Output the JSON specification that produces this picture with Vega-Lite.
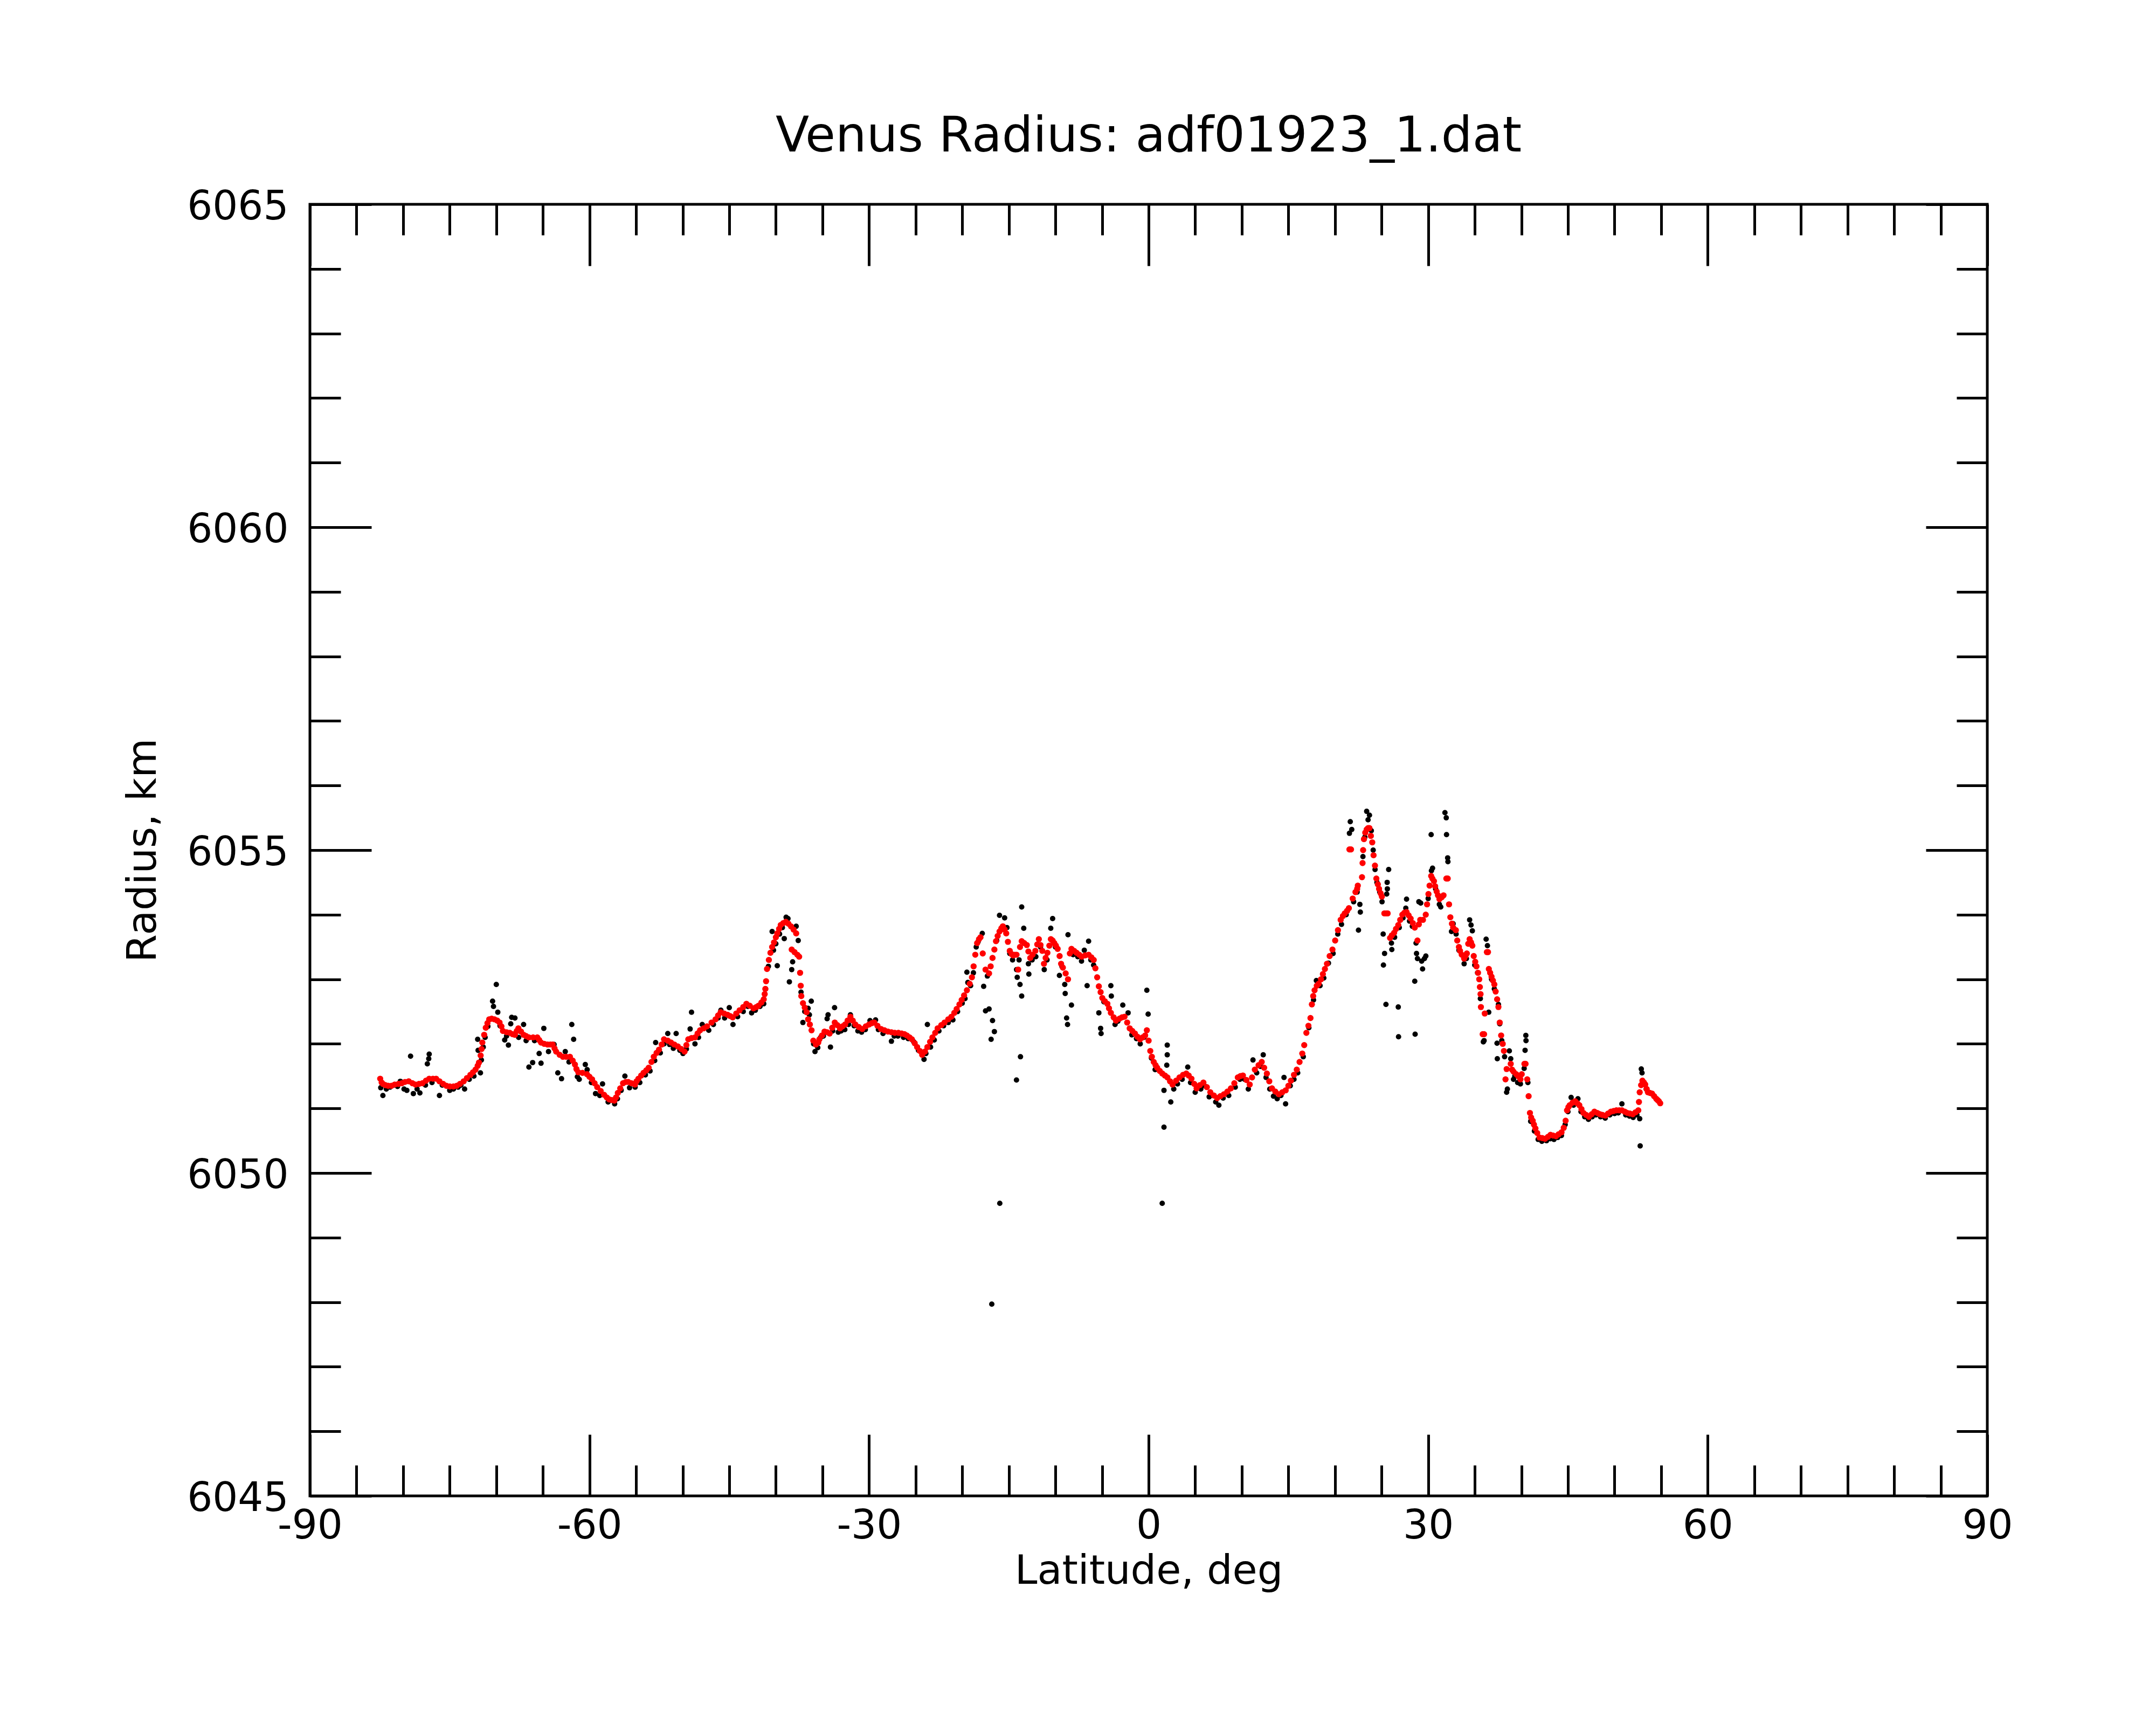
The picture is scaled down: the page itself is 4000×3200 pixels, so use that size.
{
  "$schema": "https://vega.github.io/schema/vega-lite/v6.json",
  "width": 3112,
  "height": 2396,
  "autosize": {"type": "none"},
  "padding": {"left": 575, "top": 379, "right": 313, "bottom": 425},
  "background": "white",
  "title": {
    "text": "Venus Radius: adf01923_1.dat",
    "font": "DejaVu Sans",
    "fontSize": 91,
    "fontWeight": "normal",
    "color": "black",
    "anchor": "middle",
    "offset": 47
  },
  "datasets": {
    "raw": [
      {"lat": -82.4, "r": 6051.32}, {"lat": -82.17, "r": 6051.2}, {"lat": -81.8, "r": 6051.3}, {"lat": -81.4, "r": 6051.33},
      {"lat": -81.0, "r": 6051.36}, {"lat": -80.6, "r": 6051.34}, {"lat": -80.3, "r": 6051.42}, {"lat": -79.9, "r": 6051.3},
      {"lat": -79.6, "r": 6051.28}, {"lat": -79.2, "r": 6051.81}, {"lat": -78.9, "r": 6051.23}, {"lat": -78.5, "r": 6051.3},
      {"lat": -78.2, "r": 6051.24}, {"lat": -77.6, "r": 6051.36}, {"lat": -77.4, "r": 6051.69}, {"lat": -77.25, "r": 6051.77},
      {"lat": -77.2, "r": 6051.84}, {"lat": -76.9, "r": 6051.4}, {"lat": -76.1, "r": 6051.2}, {"lat": -75.8, "r": 6051.36},
      {"lat": -75.0, "r": 6051.28}, {"lat": -74.6, "r": 6051.3}, {"lat": -74.1, "r": 6051.33}, {"lat": -73.8, "r": 6051.36},
      {"lat": -73.4, "r": 6051.3}, {"lat": -72.9, "r": 6051.45}, {"lat": -72.4, "r": 6051.5}, {"lat": -72.0, "r": 6052.07},
      {"lat": -71.95, "r": 6051.9}, {"lat": -71.7, "r": 6051.55}, {"lat": -71.6, "r": 6051.75}, {"lat": -71.4, "r": 6051.95},
      {"lat": -71.2, "r": 6052.1}, {"lat": -70.9, "r": 6052.27}, {"lat": -70.4, "r": 6052.66}, {"lat": -70.3, "r": 6052.58},
      {"lat": -70.0, "r": 6052.92}, {"lat": -69.84, "r": 6052.49}, {"lat": -69.6, "r": 6052.28}, {"lat": -69.1, "r": 6052.06},
      {"lat": -68.9, "r": 6052.12}, {"lat": -68.7, "r": 6051.98}, {"lat": -68.45, "r": 6052.31}, {"lat": -68.35, "r": 6052.41},
      {"lat": -68.0, "r": 6052.4}, {"lat": -67.6, "r": 6052.1}, {"lat": -67.07, "r": 6052.3}, {"lat": -66.8, "r": 6052.05},
      {"lat": -66.5, "r": 6051.64}, {"lat": -66.1, "r": 6051.71}, {"lat": -65.9, "r": 6052.05}, {"lat": -65.4, "r": 6051.85},
      {"lat": -65.2, "r": 6051.7}, {"lat": -64.9, "r": 6052.24}, {"lat": -64.4, "r": 6051.88}, {"lat": -63.8, "r": 6051.99},
      {"lat": -63.4, "r": 6051.55}, {"lat": -63.0, "r": 6051.46}, {"lat": -62.6, "r": 6051.88}, {"lat": -62.2, "r": 6051.72},
      {"lat": -61.9, "r": 6052.3}, {"lat": -61.7, "r": 6052.07}, {"lat": -61.3, "r": 6051.49}, {"lat": -61.1, "r": 6051.45},
      {"lat": -60.45, "r": 6051.68}, {"lat": -60.25, "r": 6051.6}, {"lat": -59.8, "r": 6051.4}, {"lat": -59.35, "r": 6051.23},
      {"lat": -58.9, "r": 6051.2}, {"lat": -58.6, "r": 6051.38}, {"lat": -58.0, "r": 6051.1}, {"lat": -57.3, "r": 6051.07},
      {"lat": -57.0, "r": 6051.15}, {"lat": -56.6, "r": 6051.28}, {"lat": -56.2, "r": 6051.5}, {"lat": -55.7, "r": 6051.32},
      {"lat": -55.1, "r": 6051.33}, {"lat": -54.6, "r": 6051.4}, {"lat": -54.0, "r": 6051.52}, {"lat": -53.5, "r": 6051.58},
      {"lat": -53.0, "r": 6051.74}, {"lat": -52.9, "r": 6052.02}, {"lat": -52.4, "r": 6051.86}, {"lat": -52.0, "r": 6052.0},
      {"lat": -51.6, "r": 6052.16}, {"lat": -51.4, "r": 6051.99}, {"lat": -51.0, "r": 6051.93}, {"lat": -50.7, "r": 6052.16},
      {"lat": -50.3, "r": 6051.9}, {"lat": -49.97, "r": 6051.85}, {"lat": -49.6, "r": 6051.92}, {"lat": -49.2, "r": 6052.23},
      {"lat": -49.05, "r": 6052.49}, {"lat": -48.68, "r": 6052.0}, {"lat": -48.3, "r": 6052.1}, {"lat": -47.9, "r": 6052.3},
      {"lat": -47.2, "r": 6052.21}, {"lat": -46.7, "r": 6052.3}, {"lat": -46.2, "r": 6052.4}, {"lat": -45.9, "r": 6052.52},
      {"lat": -45.5, "r": 6052.4}, {"lat": -45.0, "r": 6052.56}, {"lat": -44.6, "r": 6052.3}, {"lat": -44.1, "r": 6052.42},
      {"lat": -43.5, "r": 6052.5}, {"lat": -43.0, "r": 6052.58}, {"lat": -42.6, "r": 6052.48}, {"lat": -42.2, "r": 6052.52},
      {"lat": -41.7, "r": 6052.58}, {"lat": -41.3, "r": 6052.62}, {"lat": -41.1, "r": 6052.85}, {"lat": -40.8, "r": 6053.2},
      {"lat": -40.4, "r": 6053.74}, {"lat": -40.25, "r": 6053.45}, {"lat": -40.0, "r": 6053.55}, {"lat": -39.85, "r": 6053.21},
      {"lat": -39.6, "r": 6053.7}, {"lat": -39.3, "r": 6053.8}, {"lat": -39.1, "r": 6053.63}, {"lat": -38.9, "r": 6053.96},
      {"lat": -38.7, "r": 6053.94}, {"lat": -38.55, "r": 6052.96}, {"lat": -38.3, "r": 6053.15}, {"lat": -38.2, "r": 6053.27},
      {"lat": -37.82, "r": 6053.82}, {"lat": -37.6, "r": 6053.6}, {"lat": -37.3, "r": 6052.8}, {"lat": -37.1, "r": 6052.33},
      {"lat": -36.9, "r": 6052.5}, {"lat": -36.54, "r": 6052.55}, {"lat": -36.4, "r": 6052.45}, {"lat": -36.2, "r": 6052.66},
      {"lat": -35.95, "r": 6052.0}, {"lat": -35.8, "r": 6051.88}, {"lat": -35.5, "r": 6051.94}, {"lat": -35.2, "r": 6052.1},
      {"lat": -34.9, "r": 6052.12}, {"lat": -34.5, "r": 6052.39}, {"lat": -34.4, "r": 6052.45}, {"lat": -34.14, "r": 6051.95},
      {"lat": -33.9, "r": 6052.2}, {"lat": -33.7, "r": 6052.56}, {"lat": -33.3, "r": 6052.18}, {"lat": -33.0, "r": 6052.2},
      {"lat": -32.6, "r": 6052.22}, {"lat": -32.2, "r": 6052.3}, {"lat": -32.0, "r": 6052.45}, {"lat": -31.6, "r": 6052.28},
      {"lat": -31.2, "r": 6052.2}, {"lat": -30.8, "r": 6052.18}, {"lat": -30.4, "r": 6052.22}, {"lat": -29.9, "r": 6052.36},
      {"lat": -29.3, "r": 6052.37}, {"lat": -29.0, "r": 6052.22}, {"lat": -28.5, "r": 6052.16}, {"lat": -27.6, "r": 6052.04},
      {"lat": -27.3, "r": 6052.12}, {"lat": -26.9, "r": 6052.12}, {"lat": -26.3, "r": 6052.1}, {"lat": -25.8, "r": 6052.08},
      {"lat": -25.2, "r": 6052.03}, {"lat": -24.7, "r": 6051.9}, {"lat": -24.1, "r": 6051.76}, {"lat": -23.9, "r": 6051.85},
      {"lat": -23.74, "r": 6052.3}, {"lat": -23.4, "r": 6051.95}, {"lat": -23.0, "r": 6052.06}, {"lat": -22.5, "r": 6052.2},
      {"lat": -22.0, "r": 6052.28}, {"lat": -21.5, "r": 6052.33}, {"lat": -21.0, "r": 6052.37}, {"lat": -20.5, "r": 6052.5},
      {"lat": -20.0, "r": 6052.63}, {"lat": -19.7, "r": 6052.7}, {"lat": -19.5, "r": 6053.11}, {"lat": -19.4, "r": 6052.95},
      {"lat": -19.1, "r": 6052.9}, {"lat": -18.8, "r": 6053.1}, {"lat": -18.5, "r": 6053.5}, {"lat": -18.3, "r": 6053.58},
      {"lat": -17.85, "r": 6053.71}, {"lat": -17.7, "r": 6052.89}, {"lat": -17.5, "r": 6052.51}, {"lat": -17.3, "r": 6053.05},
      {"lat": -17.12, "r": 6052.54}, {"lat": -16.9, "r": 6052.07}, {"lat": -16.75, "r": 6052.36}, {"lat": -16.55, "r": 6052.19},
      {"lat": -16.83, "r": 6047.97}, {"lat": -16.3, "r": 6053.6}, {"lat": -16.0, "r": 6053.99}, {"lat": -15.97, "r": 6049.53},
      {"lat": -15.7, "r": 6053.78}, {"lat": -15.45, "r": 6053.95}, {"lat": -15.2, "r": 6053.8}, {"lat": -14.9, "r": 6053.4},
      {"lat": -14.6, "r": 6053.3}, {"lat": -14.18, "r": 6051.44}, {"lat": -14.17, "r": 6053.15}, {"lat": -14.1, "r": 6053.03},
      {"lat": -13.9, "r": 6053.3}, {"lat": -13.8, "r": 6052.92}, {"lat": -13.75, "r": 6051.8}, {"lat": -13.62, "r": 6052.74},
      {"lat": -13.62, "r": 6054.12}, {"lat": -13.4, "r": 6053.79}, {"lat": -12.9, "r": 6053.24}, {"lat": -12.85, "r": 6053.08},
      {"lat": -12.5, "r": 6053.3}, {"lat": -12.1, "r": 6053.35}, {"lat": -11.6, "r": 6053.5}, {"lat": -11.2, "r": 6053.15},
      {"lat": -10.9, "r": 6053.3}, {"lat": -10.5, "r": 6053.79}, {"lat": -10.3, "r": 6053.94}, {"lat": -10.0, "r": 6053.5},
      {"lat": -9.57, "r": 6053.06}, {"lat": -9.3, "r": 6053.2}, {"lat": -9.0, "r": 6052.92}, {"lat": -8.95, "r": 6052.78},
      {"lat": -8.8, "r": 6052.4}, {"lat": -8.7, "r": 6052.3}, {"lat": -8.65, "r": 6053.69}, {"lat": -8.28, "r": 6052.6},
      {"lat": -8.1, "r": 6053.38}, {"lat": -7.6, "r": 6053.35}, {"lat": -7.2, "r": 6053.28}, {"lat": -6.9, "r": 6053.45},
      {"lat": -6.6, "r": 6052.9}, {"lat": -6.44, "r": 6053.59}, {"lat": -6.2, "r": 6053.3}, {"lat": -5.9, "r": 6053.22},
      {"lat": -5.34, "r": 6052.48}, {"lat": -5.15, "r": 6052.24}, {"lat": -5.1, "r": 6052.16}, {"lat": -4.8, "r": 6052.65},
      {"lat": -4.05, "r": 6052.9}, {"lat": -4.0, "r": 6052.74}, {"lat": -3.6, "r": 6052.3}, {"lat": -3.3, "r": 6052.35},
      {"lat": -2.77, "r": 6052.6}, {"lat": -2.2, "r": 6052.48}, {"lat": -1.8, "r": 6052.14}, {"lat": -1.3, "r": 6052.08},
      {"lat": -0.9, "r": 6052.0}, {"lat": -0.5, "r": 6052.1}, {"lat": -0.19, "r": 6052.83}, {"lat": -0.05, "r": 6052.46},
      {"lat": 0.3, "r": 6051.78}, {"lat": 0.7, "r": 6051.6}, {"lat": 1.46, "r": 6049.53}, {"lat": 1.65, "r": 6050.71},
      {"lat": 1.65, "r": 6051.28}, {"lat": 2.0, "r": 6051.98}, {"lat": 2.0, "r": 6051.83}, {"lat": 1.95, "r": 6051.67},
      {"lat": 2.38, "r": 6051.1}, {"lat": 2.7, "r": 6051.3}, {"lat": 3.1, "r": 6051.38}, {"lat": 3.6, "r": 6051.45},
      {"lat": 4.2, "r": 6051.64}, {"lat": 4.5, "r": 6051.4}, {"lat": 5.0, "r": 6051.25}, {"lat": 5.6, "r": 6051.3},
      {"lat": 6.0, "r": 6051.35}, {"lat": 6.5, "r": 6051.18}, {"lat": 7.2, "r": 6051.1}, {"lat": 7.54, "r": 6051.05},
      {"lat": 8.0, "r": 6051.16}, {"lat": 8.6, "r": 6051.2}, {"lat": 9.3, "r": 6051.33}, {"lat": 9.8, "r": 6051.45},
      {"lat": 10.3, "r": 6051.45}, {"lat": 10.7, "r": 6051.3}, {"lat": 11.2, "r": 6051.75}, {"lat": 11.6, "r": 6051.55},
      {"lat": 12.0, "r": 6051.65}, {"lat": 12.3, "r": 6051.83}, {"lat": 12.6, "r": 6051.48}, {"lat": 13.0, "r": 6051.3},
      {"lat": 13.4, "r": 6051.19}, {"lat": 13.8, "r": 6051.15}, {"lat": 14.2, "r": 6051.2}, {"lat": 14.53, "r": 6051.48},
      {"lat": 14.7, "r": 6051.07}, {"lat": 15.2, "r": 6051.35}, {"lat": 15.6, "r": 6051.45}, {"lat": 16.0, "r": 6051.55},
      {"lat": 16.6, "r": 6051.8}, {"lat": 17.2, "r": 6052.25}, {"lat": 17.7, "r": 6052.68}, {"lat": 18.0, "r": 6052.98},
      {"lat": 18.4, "r": 6052.9}, {"lat": 18.8, "r": 6053.02}, {"lat": 19.3, "r": 6053.25}, {"lat": 19.8, "r": 6053.4},
      {"lat": 20.3, "r": 6053.7}, {"lat": 20.7, "r": 6053.85}, {"lat": 21.2, "r": 6054.0}, {"lat": 21.55, "r": 6055.26},
      {"lat": 21.64, "r": 6055.44}, {"lat": 21.8, "r": 6055.32}, {"lat": 22.0, "r": 6054.2}, {"lat": 22.38, "r": 6054.35},
      {"lat": 22.52, "r": 6053.76}, {"lat": 22.67, "r": 6054.16}, {"lat": 22.72, "r": 6054.04}, {"lat": 23.0, "r": 6054.9},
      {"lat": 23.2, "r": 6055.2}, {"lat": 23.4, "r": 6055.6}, {"lat": 23.55, "r": 6055.47}, {"lat": 23.7, "r": 6055.54},
      {"lat": 23.9, "r": 6055.3}, {"lat": 24.1, "r": 6055.0}, {"lat": 24.3, "r": 6054.7}, {"lat": 24.5, "r": 6054.5},
      {"lat": 24.8, "r": 6054.35}, {"lat": 25.05, "r": 6054.2}, {"lat": 25.17, "r": 6053.7}, {"lat": 25.2, "r": 6053.22},
      {"lat": 25.32, "r": 6053.4}, {"lat": 25.47, "r": 6052.61}, {"lat": 25.6, "r": 6054.5}, {"lat": 25.62, "r": 6054.4},
      {"lat": 25.55, "r": 6054.32}, {"lat": 25.76, "r": 6054.7}, {"lat": 26.06, "r": 6053.56}, {"lat": 26.1, "r": 6053.46},
      {"lat": 26.4, "r": 6053.65}, {"lat": 26.79, "r": 6052.57}, {"lat": 26.82, "r": 6052.11}, {"lat": 26.9, "r": 6053.8},
      {"lat": 27.3, "r": 6053.95}, {"lat": 27.6, "r": 6054.1}, {"lat": 27.68, "r": 6054.24}, {"lat": 28.0, "r": 6053.9},
      {"lat": 28.3, "r": 6053.82}, {"lat": 28.56, "r": 6052.97}, {"lat": 28.6, "r": 6052.15}, {"lat": 28.7, "r": 6053.56},
      {"lat": 28.75, "r": 6053.4}, {"lat": 28.85, "r": 6053.32}, {"lat": 29.0, "r": 6054.2}, {"lat": 29.2, "r": 6054.18},
      {"lat": 29.3, "r": 6053.28}, {"lat": 29.4, "r": 6053.16}, {"lat": 29.6, "r": 6053.32}, {"lat": 29.75, "r": 6053.36},
      {"lat": 30.0, "r": 6054.25}, {"lat": 30.32, "r": 6055.24}, {"lat": 30.35, "r": 6054.68}, {"lat": 30.47, "r": 6054.72},
      {"lat": 30.8, "r": 6054.4}, {"lat": 31.2, "r": 6054.16}, {"lat": 31.35, "r": 6054.12}, {"lat": 31.8, "r": 6055.58},
      {"lat": 31.94, "r": 6055.5}, {"lat": 31.97, "r": 6055.24}, {"lat": 32.09, "r": 6054.88}, {"lat": 32.12, "r": 6054.82},
      {"lat": 32.5, "r": 6053.74}, {"lat": 32.68, "r": 6053.86}, {"lat": 33.0, "r": 6053.7}, {"lat": 33.3, "r": 6053.45},
      {"lat": 33.86, "r": 6053.24}, {"lat": 34.1, "r": 6053.32}, {"lat": 34.45, "r": 6053.92}, {"lat": 34.6, "r": 6053.84},
      {"lat": 34.74, "r": 6053.75}, {"lat": 35.0, "r": 6053.22}, {"lat": 35.3, "r": 6053.1}, {"lat": 35.6, "r": 6052.7},
      {"lat": 35.92, "r": 6052.03}, {"lat": 36.0, "r": 6052.05}, {"lat": 36.22, "r": 6053.62}, {"lat": 36.36, "r": 6053.52},
      {"lat": 36.5, "r": 6052.49}, {"lat": 36.8, "r": 6053.0}, {"lat": 37.1, "r": 6052.85}, {"lat": 37.39, "r": 6052.01},
      {"lat": 37.42, "r": 6051.77}, {"lat": 37.54, "r": 6052.61}, {"lat": 37.68, "r": 6052.31}, {"lat": 37.9, "r": 6052.05},
      {"lat": 38.2, "r": 6051.8}, {"lat": 38.42, "r": 6051.25}, {"lat": 38.5, "r": 6051.3}, {"lat": 38.71, "r": 6051.89},
      {"lat": 38.86, "r": 6051.77}, {"lat": 39.16, "r": 6051.45}, {"lat": 39.3, "r": 6051.5}, {"lat": 39.6, "r": 6051.4},
      {"lat": 39.9, "r": 6051.38}, {"lat": 40.3, "r": 6051.62}, {"lat": 40.48, "r": 6052.13}, {"lat": 40.5, "r": 6052.05},
      {"lat": 40.4, "r": 6051.9}, {"lat": 40.7, "r": 6051.4}, {"lat": 41.0, "r": 6050.8}, {"lat": 41.4, "r": 6050.65},
      {"lat": 41.8, "r": 6050.52}, {"lat": 42.2, "r": 6050.49}, {"lat": 42.7, "r": 6050.5}, {"lat": 43.1, "r": 6050.53},
      {"lat": 43.5, "r": 6050.52}, {"lat": 43.9, "r": 6050.55}, {"lat": 44.3, "r": 6050.58}, {"lat": 44.7, "r": 6050.75},
      {"lat": 45.0, "r": 6050.95}, {"lat": 45.34, "r": 6051.17}, {"lat": 45.6, "r": 6051.05}, {"lat": 46.07, "r": 6051.15},
      {"lat": 46.4, "r": 6050.95}, {"lat": 46.8, "r": 6050.87}, {"lat": 47.2, "r": 6050.83}, {"lat": 47.6, "r": 6050.87},
      {"lat": 48.0, "r": 6050.9}, {"lat": 48.5, "r": 6050.87}, {"lat": 49.0, "r": 6050.85}, {"lat": 49.5, "r": 6050.9},
      {"lat": 50.0, "r": 6050.92}, {"lat": 50.4, "r": 6050.93}, {"lat": 50.79, "r": 6051.07}, {"lat": 51.2, "r": 6050.9},
      {"lat": 51.6, "r": 6050.88}, {"lat": 52.0, "r": 6050.86}, {"lat": 52.4, "r": 6050.9}, {"lat": 52.7, "r": 6050.84},
      {"lat": 52.75, "r": 6050.42}, {"lat": 52.87, "r": 6051.61}, {"lat": 52.95, "r": 6051.55}, {"lat": 53.1, "r": 6051.4},
      {"lat": 53.4, "r": 6051.3}
    ],
    "fit": [
      {"lat": -82.46, "r": 6051.46}, {"lat": -82.3, "r": 6051.4}, {"lat": -82.17, "r": 6051.38}, {"lat": -81.9, "r": 6051.36},
      {"lat": -81.6, "r": 6051.35}, {"lat": -81.25, "r": 6051.35}, {"lat": -80.9, "r": 6051.37}, {"lat": -80.5, "r": 6051.38},
      {"lat": -80.14, "r": 6051.39}, {"lat": -79.8, "r": 6051.41}, {"lat": -79.4, "r": 6051.42}, {"lat": -79.0, "r": 6051.39},
      {"lat": -78.67, "r": 6051.37}, {"lat": -78.3, "r": 6051.38}, {"lat": -77.93, "r": 6051.39}, {"lat": -77.55, "r": 6051.43},
      {"lat": -77.2, "r": 6051.46}, {"lat": -76.8, "r": 6051.46}, {"lat": -76.46, "r": 6051.46}, {"lat": -76.1, "r": 6051.42},
      {"lat": -75.7, "r": 6051.38}, {"lat": -75.35, "r": 6051.35}, {"lat": -74.99, "r": 6051.34}, {"lat": -74.6, "r": 6051.34},
      {"lat": -74.25, "r": 6051.35}, {"lat": -73.9, "r": 6051.38}, {"lat": -73.5, "r": 6051.42}, {"lat": -73.15, "r": 6051.47},
      {"lat": -72.78, "r": 6051.52}, {"lat": -72.5, "r": 6051.56}, {"lat": -72.23, "r": 6051.6}, {"lat": -72.0, "r": 6051.66},
      {"lat": -71.86, "r": 6051.71}, {"lat": -71.68, "r": 6051.82}, {"lat": -71.58, "r": 6051.92}, {"lat": -71.5, "r": 6052.02},
      {"lat": -71.3, "r": 6052.14}, {"lat": -71.13, "r": 6052.25}, {"lat": -70.95, "r": 6052.32}, {"lat": -70.76, "r": 6052.38},
      {"lat": -70.5, "r": 6052.39}, {"lat": -70.2, "r": 6052.38}, {"lat": -69.9, "r": 6052.36}, {"lat": -69.65, "r": 6052.33},
      {"lat": -69.45, "r": 6052.27}, {"lat": -69.29, "r": 6052.2}, {"lat": -68.9, "r": 6052.18}, {"lat": -68.55, "r": 6052.17},
      {"lat": -68.25, "r": 6052.15}, {"lat": -68.0, "r": 6052.14}, {"lat": -67.8, "r": 6052.2}, {"lat": -67.63, "r": 6052.24},
      {"lat": -67.35, "r": 6052.19}, {"lat": -67.07, "r": 6052.14}, {"lat": -66.8, "r": 6052.12}, {"lat": -66.5, "r": 6052.1},
      {"lat": -66.05, "r": 6052.1}, {"lat": -65.6, "r": 6052.1}, {"lat": -65.4, "r": 6052.06}, {"lat": -65.2, "r": 6052.02},
      {"lat": -64.85, "r": 6052.0}, {"lat": -64.5, "r": 6051.99}, {"lat": -64.2, "r": 6051.99}, {"lat": -63.95, "r": 6051.99},
      {"lat": -63.75, "r": 6051.93}, {"lat": -63.58, "r": 6051.88}, {"lat": -63.2, "r": 6051.83}, {"lat": -62.85, "r": 6051.8},
      {"lat": -62.5, "r": 6051.8}, {"lat": -62.1, "r": 6051.8}, {"lat": -61.8, "r": 6051.74}, {"lat": -61.56, "r": 6051.68},
      {"lat": -61.4, "r": 6051.61}, {"lat": -61.2, "r": 6051.56}, {"lat": -60.75, "r": 6051.55}, {"lat": -60.27, "r": 6051.53},
      {"lat": -60.0, "r": 6051.49}, {"lat": -59.72, "r": 6051.45}, {"lat": -59.45, "r": 6051.39}, {"lat": -59.17, "r": 6051.33},
      {"lat": -58.8, "r": 6051.27}, {"lat": -58.43, "r": 6051.21}, {"lat": -58.15, "r": 6051.17}, {"lat": -57.88, "r": 6051.14},
      {"lat": -57.6, "r": 6051.13}, {"lat": -57.33, "r": 6051.12}, {"lat": -57.15, "r": 6051.17}, {"lat": -56.96, "r": 6051.24},
      {"lat": -56.7, "r": 6051.31}, {"lat": -56.4, "r": 6051.39}, {"lat": -56.1, "r": 6051.41}, {"lat": -55.85, "r": 6051.41},
      {"lat": -55.5, "r": 6051.39}, {"lat": -55.12, "r": 6051.37}, {"lat": -54.95, "r": 6051.42}, {"lat": -54.75, "r": 6051.46},
      {"lat": -54.45, "r": 6051.51}, {"lat": -54.2, "r": 6051.55}, {"lat": -53.9, "r": 6051.59}, {"lat": -53.65, "r": 6051.63},
      {"lat": -53.35, "r": 6051.72}, {"lat": -53.1, "r": 6051.8}, {"lat": -52.8, "r": 6051.86}, {"lat": -52.54, "r": 6051.91},
      {"lat": -52.25, "r": 6051.99}, {"lat": -52.0, "r": 6052.07}, {"lat": -51.6, "r": 6052.05}, {"lat": -51.25, "r": 6052.02},
      {"lat": -50.9, "r": 6051.99}, {"lat": -50.52, "r": 6051.96}, {"lat": -50.15, "r": 6051.92}, {"lat": -49.8, "r": 6051.88},
      {"lat": -49.6, "r": 6051.98}, {"lat": -49.4, "r": 6052.07}, {"lat": -49.05, "r": 6052.09}, {"lat": -48.68, "r": 6052.1},
      {"lat": -48.4, "r": 6052.16}, {"lat": -48.13, "r": 6052.21}, {"lat": -47.75, "r": 6052.24}, {"lat": -47.39, "r": 6052.27},
      {"lat": -46.9, "r": 6052.33}, {"lat": -46.47, "r": 6052.38}, {"lat": -46.2, "r": 6052.44}, {"lat": -45.92, "r": 6052.49},
      {"lat": -45.55, "r": 6052.47}, {"lat": -45.18, "r": 6052.45}, {"lat": -44.9, "r": 6052.43}, {"lat": -44.63, "r": 6052.41},
      {"lat": -44.25, "r": 6052.47}, {"lat": -43.89, "r": 6052.52}, {"lat": -43.5, "r": 6052.57}, {"lat": -43.16, "r": 6052.62},
      {"lat": -42.8, "r": 6052.59}, {"lat": -42.4, "r": 6052.55}, {"lat": -42.1, "r": 6052.57}, {"lat": -41.87, "r": 6052.59},
      {"lat": -41.55, "r": 6052.64}, {"lat": -41.3, "r": 6052.69}, {"lat": -41.2, "r": 6052.77}, {"lat": -41.13, "r": 6052.85},
      {"lat": -41.05, "r": 6052.97}, {"lat": -40.95, "r": 6053.16}, {"lat": -40.75, "r": 6053.3}, {"lat": -40.58, "r": 6053.41},
      {"lat": -40.4, "r": 6053.5}, {"lat": -40.2, "r": 6053.57}, {"lat": -40.0, "r": 6053.65}, {"lat": -39.85, "r": 6053.71},
      {"lat": -39.65, "r": 6053.78}, {"lat": -39.48, "r": 6053.84}, {"lat": -39.2, "r": 6053.87}, {"lat": -38.93, "r": 6053.89},
      {"lat": -38.65, "r": 6053.86}, {"lat": -38.38, "r": 6053.82}, {"lat": -38.1, "r": 6053.77}, {"lat": -37.82, "r": 6053.71},
      {"lat": -38.3, "r": 6053.46}, {"lat": -38.0, "r": 6053.42}, {"lat": -37.7, "r": 6053.38}, {"lat": -37.5, "r": 6053.35},
      {"lat": -37.4, "r": 6053.1}, {"lat": -37.33, "r": 6052.9}, {"lat": -37.27, "r": 6052.74}, {"lat": -37.09, "r": 6052.63},
      {"lat": -36.9, "r": 6052.56}, {"lat": -36.7, "r": 6052.49}, {"lat": -36.54, "r": 6052.38}, {"lat": -36.35, "r": 6052.3},
      {"lat": -36.17, "r": 6052.21}, {"lat": -35.98, "r": 6052.05}, {"lat": -35.7, "r": 6051.99}, {"lat": -35.45, "r": 6052.02},
      {"lat": -35.33, "r": 6052.07}, {"lat": -35.05, "r": 6052.13}, {"lat": -34.78, "r": 6052.19}, {"lat": -34.5, "r": 6052.18},
      {"lat": -34.23, "r": 6052.16}, {"lat": -33.95, "r": 6052.25}, {"lat": -33.68, "r": 6052.33}, {"lat": -33.4, "r": 6052.29},
      {"lat": -33.12, "r": 6052.24}, {"lat": -32.85, "r": 6052.27}, {"lat": -32.57, "r": 6052.3}, {"lat": -32.3, "r": 6052.36},
      {"lat": -32.0, "r": 6052.42}, {"lat": -31.75, "r": 6052.36}, {"lat": -31.47, "r": 6052.3}, {"lat": -31.1, "r": 6052.26},
      {"lat": -30.73, "r": 6052.23}, {"lat": -30.35, "r": 6052.27}, {"lat": -30.0, "r": 6052.3}, {"lat": -29.7, "r": 6052.32},
      {"lat": -29.44, "r": 6052.33}, {"lat": -29.1, "r": 6052.28}, {"lat": -28.71, "r": 6052.23}, {"lat": -28.35, "r": 6052.21},
      {"lat": -27.97, "r": 6052.19}, {"lat": -27.6, "r": 6052.18}, {"lat": -27.24, "r": 6052.17}, {"lat": -26.85, "r": 6052.17},
      {"lat": -26.5, "r": 6052.16}, {"lat": -26.2, "r": 6052.15}, {"lat": -25.95, "r": 6052.13}, {"lat": -25.65, "r": 6052.1},
      {"lat": -25.4, "r": 6052.07}, {"lat": -25.1, "r": 6052.01}, {"lat": -24.84, "r": 6051.95}, {"lat": -24.55, "r": 6051.89},
      {"lat": -24.3, "r": 6051.83}, {"lat": -24.0, "r": 6051.88}, {"lat": -23.74, "r": 6051.95}, {"lat": -23.45, "r": 6052.03},
      {"lat": -23.2, "r": 6052.1}, {"lat": -22.9, "r": 6052.17}, {"lat": -22.64, "r": 6052.24}, {"lat": -22.25, "r": 6052.29},
      {"lat": -21.9, "r": 6052.33}, {"lat": -21.5, "r": 6052.38}, {"lat": -21.16, "r": 6052.42}, {"lat": -20.85, "r": 6052.48},
      {"lat": -20.6, "r": 6052.54}, {"lat": -20.3, "r": 6052.61}, {"lat": -20.06, "r": 6052.68}, {"lat": -19.8, "r": 6052.75},
      {"lat": -19.5, "r": 6052.83}, {"lat": -19.2, "r": 6052.93}, {"lat": -18.96, "r": 6053.03}, {"lat": -18.78, "r": 6053.2},
      {"lat": -18.6, "r": 6053.38}, {"lat": -18.4, "r": 6053.56}, {"lat": -18.2, "r": 6053.62}, {"lat": -18.04, "r": 6053.65},
      {"lat": -17.8, "r": 6053.4}, {"lat": -17.5, "r": 6053.15}, {"lat": -17.12, "r": 6053.09}, {"lat": -16.95, "r": 6053.2},
      {"lat": -16.75, "r": 6053.33}, {"lat": -16.55, "r": 6053.46}, {"lat": -16.38, "r": 6053.59}, {"lat": -16.2, "r": 6053.67},
      {"lat": -16.0, "r": 6053.74}, {"lat": -15.8, "r": 6053.79}, {"lat": -15.64, "r": 6053.82}, {"lat": -15.45, "r": 6053.77},
      {"lat": -15.28, "r": 6053.71}, {"lat": -15.1, "r": 6053.58}, {"lat": -14.9, "r": 6053.44}, {"lat": -14.7, "r": 6053.39},
      {"lat": -14.54, "r": 6053.37}, {"lat": -14.35, "r": 6053.38}, {"lat": -14.17, "r": 6053.38}, {"lat": -14.0, "r": 6053.15},
      {"lat": -13.8, "r": 6053.5}, {"lat": -13.62, "r": 6053.59}, {"lat": -13.35, "r": 6053.56}, {"lat": -13.07, "r": 6053.53},
      {"lat": -12.9, "r": 6053.43}, {"lat": -12.7, "r": 6053.33}, {"lat": -12.45, "r": 6053.38}, {"lat": -12.15, "r": 6053.44},
      {"lat": -11.95, "r": 6053.54}, {"lat": -11.78, "r": 6053.62}, {"lat": -11.6, "r": 6053.53}, {"lat": -11.41, "r": 6053.44},
      {"lat": -11.23, "r": 6053.24}, {"lat": -11.05, "r": 6053.33}, {"lat": -10.86, "r": 6053.41}, {"lat": -10.65, "r": 6053.52},
      {"lat": -10.49, "r": 6053.62}, {"lat": -10.3, "r": 6053.6}, {"lat": -10.12, "r": 6053.56}, {"lat": -9.95, "r": 6053.52},
      {"lat": -9.76, "r": 6053.47}, {"lat": -9.55, "r": 6053.36}, {"lat": -9.39, "r": 6053.24}, {"lat": -9.2, "r": 6053.18},
      {"lat": -8.9, "r": 6053.09}, {"lat": -8.65, "r": 6053.0}, {"lat": -8.45, "r": 6053.4}, {"lat": -8.28, "r": 6053.47},
      {"lat": -8.0, "r": 6053.44}, {"lat": -7.73, "r": 6053.41}, {"lat": -7.45, "r": 6053.38}, {"lat": -7.18, "r": 6053.35},
      {"lat": -6.8, "r": 6053.37}, {"lat": -6.44, "r": 6053.38}, {"lat": -6.15, "r": 6053.34}, {"lat": -5.89, "r": 6053.3},
      {"lat": -5.71, "r": 6053.17}, {"lat": -5.52, "r": 6053.03}, {"lat": -5.34, "r": 6052.89}, {"lat": -5.15, "r": 6052.8},
      {"lat": -4.97, "r": 6052.71}, {"lat": -4.7, "r": 6052.66}, {"lat": -4.42, "r": 6052.62}, {"lat": -4.25, "r": 6052.55},
      {"lat": -4.05, "r": 6052.48}, {"lat": -3.75, "r": 6052.41}, {"lat": -3.5, "r": 6052.36}, {"lat": -3.13, "r": 6052.39},
      {"lat": -2.85, "r": 6052.41}, {"lat": -2.58, "r": 6052.42}, {"lat": -2.3, "r": 6052.33}, {"lat": -2.03, "r": 6052.24},
      {"lat": -1.75, "r": 6052.2}, {"lat": -1.47, "r": 6052.16}, {"lat": -1.2, "r": 6052.11}, {"lat": -0.92, "r": 6052.07},
      {"lat": -0.65, "r": 6052.1}, {"lat": -0.37, "r": 6052.13}, {"lat": -0.19, "r": 6052.21}, {"lat": 0.0, "r": 6052.05},
      {"lat": 0.18, "r": 6051.89}, {"lat": 0.35, "r": 6051.8}, {"lat": 0.55, "r": 6051.72}, {"lat": 0.75, "r": 6051.67},
      {"lat": 0.92, "r": 6051.63}, {"lat": 1.2, "r": 6051.58}, {"lat": 1.47, "r": 6051.54}, {"lat": 1.75, "r": 6051.51},
      {"lat": 2.02, "r": 6051.48}, {"lat": 2.3, "r": 6051.42}, {"lat": 2.57, "r": 6051.37}, {"lat": 2.95, "r": 6051.43},
      {"lat": 3.31, "r": 6051.48}, {"lat": 3.7, "r": 6051.52}, {"lat": 4.04, "r": 6051.54}, {"lat": 4.3, "r": 6051.51},
      {"lat": 4.6, "r": 6051.46}, {"lat": 4.9, "r": 6051.38}, {"lat": 5.15, "r": 6051.31}, {"lat": 5.5, "r": 6051.36},
      {"lat": 5.88, "r": 6051.4}, {"lat": 6.25, "r": 6051.33}, {"lat": 6.62, "r": 6051.25}, {"lat": 7.0, "r": 6051.2},
      {"lat": 7.36, "r": 6051.16}, {"lat": 7.7, "r": 6051.19}, {"lat": 8.09, "r": 6051.22}, {"lat": 8.45, "r": 6051.26},
      {"lat": 8.83, "r": 6051.31}, {"lat": 9.2, "r": 6051.39}, {"lat": 9.57, "r": 6051.48}, {"lat": 9.85, "r": 6051.5},
      {"lat": 10.12, "r": 6051.51}, {"lat": 10.5, "r": 6051.44}, {"lat": 10.85, "r": 6051.37}, {"lat": 11.1, "r": 6051.48},
      {"lat": 11.4, "r": 6051.6}, {"lat": 11.8, "r": 6051.67}, {"lat": 12.14, "r": 6051.72}, {"lat": 12.4, "r": 6051.63},
      {"lat": 12.69, "r": 6051.54}, {"lat": 12.95, "r": 6051.42}, {"lat": 13.24, "r": 6051.31}, {"lat": 13.6, "r": 6051.26},
      {"lat": 13.98, "r": 6051.22}, {"lat": 14.35, "r": 6051.25}, {"lat": 14.71, "r": 6051.28}, {"lat": 15.0, "r": 6051.35},
      {"lat": 15.27, "r": 6051.43}, {"lat": 15.6, "r": 6051.52}, {"lat": 15.9, "r": 6051.6}, {"lat": 16.2, "r": 6051.72},
      {"lat": 16.49, "r": 6051.85}, {"lat": 16.7, "r": 6051.98}, {"lat": 16.93, "r": 6052.17}, {"lat": 17.15, "r": 6052.28},
      {"lat": 17.37, "r": 6052.4}, {"lat": 17.52, "r": 6052.61}, {"lat": 17.66, "r": 6052.74}, {"lat": 17.81, "r": 6052.83},
      {"lat": 18.05, "r": 6052.9}, {"lat": 18.25, "r": 6052.93}, {"lat": 18.5, "r": 6053.0}, {"lat": 18.7, "r": 6053.08},
      {"lat": 18.92, "r": 6053.16}, {"lat": 19.14, "r": 6053.24}, {"lat": 19.43, "r": 6053.36}, {"lat": 19.73, "r": 6053.46},
      {"lat": 20.02, "r": 6053.6}, {"lat": 20.32, "r": 6053.76}, {"lat": 20.61, "r": 6053.92}, {"lat": 20.85, "r": 6053.98},
      {"lat": 21.05, "r": 6054.02}, {"lat": 21.3, "r": 6054.06}, {"lat": 21.49, "r": 6054.1}, {"lat": 21.55, "r": 6055.01},
      {"lat": 21.72, "r": 6055.01}, {"lat": 21.9, "r": 6054.25}, {"lat": 22.2, "r": 6054.35}, {"lat": 22.38, "r": 6054.4},
      {"lat": 22.45, "r": 6054.45}, {"lat": 22.9, "r": 6054.58}, {"lat": 22.96, "r": 6054.8}, {"lat": 23.02, "r": 6055.0},
      {"lat": 23.11, "r": 6055.17}, {"lat": 23.25, "r": 6055.27}, {"lat": 23.4, "r": 6055.32}, {"lat": 23.55, "r": 6055.34},
      {"lat": 23.7, "r": 6055.34}, {"lat": 23.85, "r": 6055.22}, {"lat": 24.0, "r": 6055.12}, {"lat": 24.14, "r": 6054.92},
      {"lat": 24.29, "r": 6054.76}, {"lat": 24.44, "r": 6054.56}, {"lat": 24.6, "r": 6054.47}, {"lat": 24.73, "r": 6054.4},
      {"lat": 24.9, "r": 6054.33}, {"lat": 25.03, "r": 6054.28}, {"lat": 25.3, "r": 6054.02}, {"lat": 25.5, "r": 6054.02},
      {"lat": 25.65, "r": 6054.02}, {"lat": 25.91, "r": 6053.64}, {"lat": 26.1, "r": 6053.68}, {"lat": 26.35, "r": 6053.72},
      {"lat": 26.55, "r": 6053.78}, {"lat": 26.79, "r": 6053.84}, {"lat": 27.0, "r": 6053.92}, {"lat": 27.23, "r": 6054.0},
      {"lat": 27.45, "r": 6054.03}, {"lat": 27.68, "r": 6054.04}, {"lat": 27.9, "r": 6053.99}, {"lat": 28.12, "r": 6053.94},
      {"lat": 28.35, "r": 6053.87}, {"lat": 28.56, "r": 6053.8}, {"lat": 28.85, "r": 6053.6}, {"lat": 29.0, "r": 6053.85},
      {"lat": 29.15, "r": 6053.92}, {"lat": 29.44, "r": 6053.92}, {"lat": 29.74, "r": 6054.0}, {"lat": 29.88, "r": 6054.16},
      {"lat": 30.03, "r": 6054.32}, {"lat": 30.15, "r": 6054.45}, {"lat": 30.32, "r": 6054.6}, {"lat": 30.45, "r": 6054.56},
      {"lat": 30.62, "r": 6054.52}, {"lat": 30.75, "r": 6054.44}, {"lat": 30.91, "r": 6054.36}, {"lat": 31.05, "r": 6054.3},
      {"lat": 31.21, "r": 6054.24}, {"lat": 31.45, "r": 6054.27}, {"lat": 31.65, "r": 6054.3}, {"lat": 31.95, "r": 6054.56},
      {"lat": 32.1, "r": 6054.56}, {"lat": 32.24, "r": 6054.16}, {"lat": 32.38, "r": 6053.96}, {"lat": 32.55, "r": 6053.86},
      {"lat": 32.68, "r": 6053.8}, {"lat": 32.97, "r": 6053.76}, {"lat": 33.12, "r": 6053.6}, {"lat": 33.3, "r": 6053.5},
      {"lat": 33.42, "r": 6053.44}, {"lat": 33.6, "r": 6053.38}, {"lat": 33.86, "r": 6053.32}, {"lat": 34.0, "r": 6053.36},
      {"lat": 34.15, "r": 6053.4}, {"lat": 34.3, "r": 6053.55}, {"lat": 34.45, "r": 6053.62}, {"lat": 34.6, "r": 6053.57},
      {"lat": 34.74, "r": 6053.52}, {"lat": 34.89, "r": 6053.36}, {"lat": 35.05, "r": 6053.27}, {"lat": 35.18, "r": 6053.2},
      {"lat": 35.35, "r": 6053.1}, {"lat": 35.48, "r": 6053.0}, {"lat": 35.55, "r": 6052.88}, {"lat": 35.62, "r": 6052.77},
      {"lat": 35.66, "r": 6052.57}, {"lat": 35.85, "r": 6052.15}, {"lat": 36.0, "r": 6052.15}, {"lat": 36.07, "r": 6052.47},
      {"lat": 36.3, "r": 6053.42}, {"lat": 36.42, "r": 6053.42}, {"lat": 36.51, "r": 6053.16}, {"lat": 36.65, "r": 6053.1},
      {"lat": 36.8, "r": 6053.04}, {"lat": 36.95, "r": 6052.98}, {"lat": 37.1, "r": 6052.92}, {"lat": 37.24, "r": 6052.81},
      {"lat": 37.4, "r": 6052.69}, {"lat": 37.54, "r": 6052.57}, {"lat": 37.68, "r": 6052.33}, {"lat": 37.83, "r": 6052.13},
      {"lat": 38.0, "r": 6052.0}, {"lat": 38.13, "r": 6051.89}, {"lat": 38.3, "r": 6051.45}, {"lat": 38.42, "r": 6051.61},
      {"lat": 38.86, "r": 6051.69}, {"lat": 39.0, "r": 6051.6}, {"lat": 39.16, "r": 6051.57}, {"lat": 39.45, "r": 6051.53},
      {"lat": 39.65, "r": 6051.5}, {"lat": 39.9, "r": 6051.45}, {"lat": 40.04, "r": 6051.53}, {"lat": 40.33, "r": 6051.69},
      {"lat": 40.45, "r": 6051.69}, {"lat": 40.63, "r": 6051.45}, {"lat": 40.78, "r": 6051.19}, {"lat": 40.92, "r": 6050.93},
      {"lat": 41.05, "r": 6050.86}, {"lat": 41.22, "r": 6050.81}, {"lat": 41.35, "r": 6050.75}, {"lat": 41.51, "r": 6050.69},
      {"lat": 41.7, "r": 6050.62}, {"lat": 41.95, "r": 6050.55}, {"lat": 42.25, "r": 6050.54}, {"lat": 42.54, "r": 6050.53},
      {"lat": 42.85, "r": 6050.56}, {"lat": 43.13, "r": 6050.59}, {"lat": 43.4, "r": 6050.58}, {"lat": 43.72, "r": 6050.57},
      {"lat": 44.0, "r": 6050.6}, {"lat": 44.31, "r": 6050.63}, {"lat": 44.55, "r": 6050.7}, {"lat": 44.75, "r": 6050.81},
      {"lat": 44.9, "r": 6050.97}, {"lat": 45.05, "r": 6051.02}, {"lat": 45.19, "r": 6051.05}, {"lat": 45.5, "r": 6051.09},
      {"lat": 45.78, "r": 6051.11}, {"lat": 46.0, "r": 6051.08}, {"lat": 46.22, "r": 6051.05}, {"lat": 46.45, "r": 6050.99},
      {"lat": 46.66, "r": 6050.93}, {"lat": 46.95, "r": 6050.9}, {"lat": 47.25, "r": 6050.87}, {"lat": 47.55, "r": 6050.91},
      {"lat": 47.84, "r": 6050.95}, {"lat": 48.15, "r": 6050.93}, {"lat": 48.43, "r": 6050.91}, {"lat": 48.7, "r": 6050.9},
      {"lat": 49.02, "r": 6050.89}, {"lat": 49.3, "r": 6050.92}, {"lat": 49.61, "r": 6050.95}, {"lat": 49.9, "r": 6050.96},
      {"lat": 50.2, "r": 6050.97}, {"lat": 50.5, "r": 6050.97}, {"lat": 50.79, "r": 6050.97}, {"lat": 51.1, "r": 6050.95},
      {"lat": 51.37, "r": 6050.93}, {"lat": 51.65, "r": 6050.92}, {"lat": 51.96, "r": 6050.91}, {"lat": 52.25, "r": 6050.94},
      {"lat": 52.55, "r": 6050.97}, {"lat": 52.62, "r": 6051.1}, {"lat": 52.7, "r": 6051.25}, {"lat": 52.85, "r": 6051.36},
      {"lat": 52.99, "r": 6051.43}, {"lat": 53.15, "r": 6051.4}, {"lat": 53.29, "r": 6051.37}, {"lat": 53.45, "r": 6051.3},
      {"lat": 53.58, "r": 6051.25}, {"lat": 53.8, "r": 6051.24}, {"lat": 54.02, "r": 6051.23}, {"lat": 54.25, "r": 6051.19},
      {"lat": 54.47, "r": 6051.15}, {"lat": 54.62, "r": 6051.13}, {"lat": 54.76, "r": 6051.11}, {"lat": 54.9, "r": 6051.08}
    ]
  },
  "layer": [
    {
      "data": {"name": "raw"},
      "mark": {"type": "circle", "size": 100, "color": "black", "opacity": 1},
      "encoding": {
        "x": {
          "field": "lat",
          "type": "quantitative",
          "scale": {"domain": [-90, 90], "nice": false, "zero": false},
          "axis": {
            "orient": "bottom",
            "values": [-90, -60, -30, 0, 30, 60, 90],
            "tickSize": -114,
            "labelPadding": 134,
            "labelExpr": "'' + datum.value",
            "title": "Latitude, deg",
            "titlePadding": 10
          }
        },
        "y": {
          "field": "r",
          "type": "quantitative",
          "scale": {"domain": [6045, 6065], "nice": false, "zero": false},
          "axis": {
            "orient": "left",
            "values": [6045, 6050, 6055, 6060, 6065],
            "tickSize": -114,
            "labelPadding": 154,
            "labelOffset": 5,
            "labelExpr": "'' + datum.value",
            "title": "Radius, km",
            "titlePadding": 71
          }
        }
      }
    },
    {
      "data": {"name": "fit"},
      "mark": {"type": "circle", "size": 130, "color": "#ff0000", "opacity": 1},
      "encoding": {
        "x": {
          "field": "lat",
          "type": "quantitative",
          "axis": {
            "orient": "bottom",
            "values": [-85, -80, -75, -70, -65, -55, -50, -45, -40, -35, -25, -20, -15, -10, -5, 5, 10, 15, 20, 25, 35, 40, 45, 50, 55, 65, 70, 75, 80, 85],
            "tickSize": -57,
            "labels": false,
            "title": null
          }
        },
        "y": {
          "field": "r",
          "type": "quantitative",
          "axis": {
            "orient": "left",
            "values": [6046, 6047, 6048, 6049, 6051, 6052, 6053, 6054, 6056, 6057, 6058, 6059, 6061, 6062, 6063, 6064],
            "tickSize": -57,
            "labels": false,
            "title": null
          }
        }
      }
    },
    {
      "data": {"name": "fit"},
      "transform": [{"filter": "false"}],
      "mark": {"type": "circle"},
      "encoding": {
        "x": {
          "field": "lat",
          "type": "quantitative",
          "axis": {"orient": "top", "values": [-90, -60, -30, 0, 30, 60, 90], "tickSize": -114, "labels": false, "title": null}
        },
        "y": {
          "field": "r",
          "type": "quantitative",
          "axis": {"orient": "right", "values": [6045, 6050, 6055, 6060, 6065], "tickSize": -114, "labels": false, "title": null}
        }
      }
    },
    {
      "data": {"name": "fit"},
      "transform": [{"filter": "false"}],
      "mark": {"type": "circle"},
      "encoding": {
        "x": {
          "field": "lat",
          "type": "quantitative",
          "axis": {
            "orient": "top",
            "values": [-85, -80, -75, -70, -65, -55, -50, -45, -40, -35, -25, -20, -15, -10, -5, 5, 10, 15, 20, 25, 35, 40, 45, 50, 55, 65, 70, 75, 80, 85],
            "tickSize": -57,
            "labels": false,
            "title": null
          }
        },
        "y": {
          "field": "r",
          "type": "quantitative",
          "axis": {
            "orient": "right",
            "values": [6046, 6047, 6048, 6049, 6051, 6052, 6053, 6054, 6056, 6057, 6058, 6059, 6061, 6062, 6063, 6064],
            "tickSize": -57,
            "labels": false,
            "title": null
          }
        }
      }
    }
  ],
  "resolve": {"axis": {"x": "independent", "y": "independent"}},
  "config": {
    "view": {"stroke": "black", "strokeWidth": 5},
    "axis": {
      "domain": false,
      "grid": false,
      "ticks": true,
      "tickColor": "black",
      "tickWidth": 5,
      "labelFont": "DejaVu Sans",
      "labelFontSize": 74,
      "labelColor": "black",
      "labelFlush": false,
      "labelOverlap": false,
      "labelBound": false,
      "labelLimit": 0,
      "titleFont": "DejaVu Sans",
      "titleFontSize": 75,
      "titleFontWeight": "normal",
      "titleColor": "black"
    }
  }
}
